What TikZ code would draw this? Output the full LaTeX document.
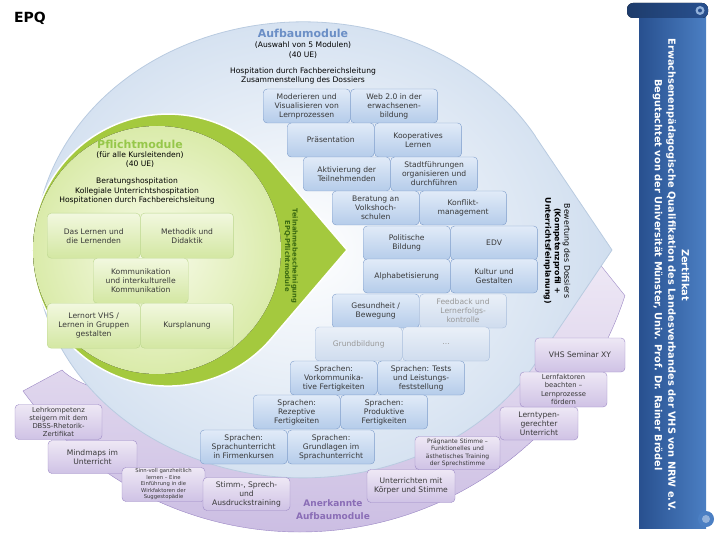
\documentclass[tikz,border=0pt]{standalone}
\usepackage{fontspec}
\setmainfont{DejaVu Sans}
\usetikzlibrary{positioning}

\definecolor{blueboxtop}{HTML}{E1EBF8}
\definecolor{bluebox}{HTML}{B5CCEA}
\definecolor{blueline}{HTML}{7E9DCB}
\definecolor{fadetop}{HTML}{EAF0F8}
\definecolor{fadebot}{HTML}{CFDCEE}
\definecolor{fadeline}{HTML}{A9BEDC}
\definecolor{greentop}{HTML}{F2F8DF}
\definecolor{greenbot}{HTML}{D3E7A2}
\definecolor{greenline}{HTML}{BCD78E}
\definecolor{ringgreen}{HTML}{A4C93E}
\definecolor{greeninner}{HTML}{F8FBEA}
\definecolor{greenouter}{HTML}{DAEBAA}
\definecolor{lilatop}{HTML}{EEE8F5}
\definecolor{lilabot}{HTML}{CFC2E5}
\definecolor{lilaline}{HTML}{9D8AC6}
\definecolor{lilafield}{HTML}{C6B7E0}
\definecolor{lilaedge}{HTML}{9A86C4}
\definecolor{lilatext}{HTML}{8A6DB6}
\definecolor{bluefield}{HTML}{D0DEEF}
\definecolor{blueedge}{HTML}{B9CBE0}
\definecolor{bluetitle}{HTML}{6B8FC6}
\definecolor{greentitle}{HTML}{96C74A}
\definecolor{darkgreen}{HTML}{3C6B12}
\definecolor{scrolldark}{HTML}{28508F}
\definecolor{scrolllight}{HTML}{4B7FC3}

\tikzset{
  box/.style={rounded corners=4pt, align=center, inner sep=1pt, text=black!78,
              font=\fontsize{7.6}{9}\selectfont},
  pbox/.style={box, draw=greenline, top color=greentop, bottom color=greenbot,
               minimum width=93pt, minimum height=45pt},
  abox/.style={box, draw=blueline, top color=blueboxtop, bottom color=bluebox,
               minimum width=87pt, minimum height=34pt},
  fbox/.style={abox, draw=fadeline, top color=fadetop, bottom color=fadebot, text=black!40},
  lbox/.style={box, draw=lilaline, top color=lilatop, bottom color=lilabot,
               minimum width=87pt, minimum height=33pt},
  smalltext/.style={font=\fontsize{6.8}{8.2}\selectfont},
  tinytext/.style={font=\fontsize{5.3}{6.5}\selectfont},
}

\begin{document}
\begin{tikzpicture}[x=1pt, y=-1pt]
\useasboundingbox (0,0) rectangle (720,540);

% anerkannte aufbaumodule
\draw[draw=lilaedge, top color=lilatop, bottom color=lilafield]
  (23,391) arc[start angle=-144, end angle=-18, radius=342pt]
  -- (598,262) .. controls (520,420) and (120,430) .. (62,370) -- cycle;

% aufbaumodule
\draw[draw=blueedge, line width=0.8pt, inner color=white, outer color=bluefield]
  (535.4,136.5) -- (612,250) -- (535.4,363.5)
  arc[start angle=-29.9, end angle=-330.1, x radius=268pt, y radius=228pt] -- cycle;

% pflichtmodule
\draw[draw=white, line width=1.5pt, fill=ringgreen]
  (271.4,161.6) -- (347,250) -- (271.4,338.4)
  arc[start angle=-40.5, end angle=-319.5, radius=136pt] -- cycle;
\fill[inner color=greeninner, outer color=greenouter] (157,250) circle[radius=124pt];

\node[font=\bfseries\fontsize{14}{16}\selectfont] (epq) at (30,18) {EPQ};

\node[text=bluetitle, font=\bfseries\fontsize{11}{13}\selectfont] (atitle) at (303,33) {Aufbaumodule};
\node[align=center, font=\fontsize{7.6}{9.5}\selectfont] (aunits) at (303,50)
  {(Auswahl von 5 Modulen)\\(40 UE)};
\node[align=center, font=\fontsize{7.6}{9.5}\selectfont] (ahosp) at (303,76)
  {Hospitation durch Fachbereichsleitung\\Zusammenstellung des Dossiers};

\node[text=greentitle, font=\bfseries\fontsize{11}{13}\selectfont] (ptitle) at (140,144) {Pflichtmodule};
\node[align=center, font=\fontsize{7.6}{9}\selectfont] (punits) at (140,160)
  {(für alle Kursleitenden)\\(40 UE)};
\node[align=center, font=\fontsize{7.6}{9.4}\selectfont] (phosp) at (137,191)
  {Beratungshospitation\\Kollegiale Unterrichtshospitation\\Hospitationen durch Fachbereichsleitung};

\node[rotate=-90, text=darkgreen, align=center, font=\bfseries\fontsize{6.8}{7.6}\selectfont]
  (teiln) at (291,256) {Teilnahmebescheinigung\\EPQ-Pflichtmodule};
\node[rotate=-90, align=center, font=\fontsize{7.8}{9.6}\selectfont]
  (bewert) at (557,251) {Bewertung des Dossiers\\\textbf{(Kompetenzprofil +}\\\textbf{Unterrichtsfeinplanung)}};
\node[text=lilatext, align=center, font=\bfseries\fontsize{9}{13}\selectfont]
  (anerk) at (333,510) {Anerkannte\\Aufbaumodule};

% pflichtmodule boxes
\node[pbox, anchor=north west] (lernen) at (47,213) {Das Lernen und\\die Lernenden};
\node[pbox, right=0pt of lernen] (methodik) {Methodik und\\Didaktik};
\node[pbox, anchor=north west, minimum width=95pt] (komm) at (93,258) {Kommunikation\\und interkulturelle\\Kommunikation};
\node[pbox, anchor=north west] (lernort) at (47,303) {Lernort VHS /\\Lernen in Gruppen\\gestalten};
\node[pbox, right=0pt of lernort] (kurs) {Kursplanung};

% aufbaumodule boxes
\node[abox, anchor=west] (moder) at (263,106) {Moderieren und\\Visualisieren von\\Lernprozessen};
\node[abox, right=0pt of moder] (web) {Web 2.0 in der\\erwachsenen-\\bildung};
\node[abox, anchor=west] (praes) at (287,140) {Präsentation};
\node[abox, right=0pt of praes] (koop) {Kooperatives\\Lernen};
\node[abox, anchor=west] (aktiv) at (303,174) {Aktivierung der\\Teilnehmenden};
\node[abox, right=0pt of aktiv] (stadt) {Stadtführungen\\organisieren und\\durchführen};
\node[abox, anchor=west] (berat) at (332,208) {Beratung an\\Volkshoch-\\schulen};
\node[abox, right=0pt of berat] (konfl) {Konflikt-\\management};
\node[abox, anchor=west] (polit) at (363,243) {Politische\\Bildung};
\node[abox, right=0pt of polit] (edv) {EDV};
\node[abox, anchor=west] (alpha) at (363,276) {Alphabetisierung};
\node[abox, right=0pt of alpha] (kultur) {Kultur und\\Gestalten};
\node[abox, anchor=west] (gesund) at (332,311) {Gesundheit /\\Bewegung};
\node[fbox, right=0pt of gesund] (feedb) {Feedback und\\Lernerfolgs-\\kontrolle};
\node[fbox, anchor=west] (grund) at (315,344) {Grundbildung};
\node[fbox, right=0pt of grund] (dots) {...};
\node[abox, anchor=west] (vorkomm) at (290,378) {Sprachen:\\Vorkommunika-\\tive Fertigkeiten};
\node[abox, right=0pt of vorkomm] (tests) {Sprachen: Tests\\und Leistungs-\\feststellung};
\node[abox, anchor=west] (rezep) at (253,412) {Sprachen:\\Rezeptive\\Fertigkeiten};
\node[abox, right=0pt of rezep] (produk) {Sprachen:\\Produktive\\Fertigkeiten};
\node[abox, anchor=west] (firmen) at (200,447) {Sprachen:\\Sprachunterricht\\in Firmenkursen};
\node[abox, right=0pt of firmen] (grundl) {Sprachen:\\Grundlagen im\\Sprachunterricht};

% anerkannte boxes
\node[lbox, smalltext, minimum height=35pt] (lehr) at (58.5,422) {Lehrkompetenz\\steigern mit dem\\DBSS-Rhetorik-\\Zertifikat};
\node[lbox, minimum width=89pt] (mind) at (92.5,457) {Mindmaps im\\Unterricht};
\node[lbox, tinytext, minimum width=83pt, minimum height=34pt] (sinn) at (163.5,484.5) {Sinn-voll ganzheitlich\\lernen – Eine\\Einführung in die\\Wirkfaktoren der\\Suggestopädie};
\node[lbox] (stimm) at (246.5,494) {Stimm-, Sprech-\\und\\Ausdruckstraining};
\node[lbox, minimum width=88pt] (unter) at (411,486) {Unterrichten mit\\Körper und Stimme};
\node[lbox, font=\fontsize{6}{7.4}\selectfont, minimum width=85pt] (praeg) at (457.5,453) {Prägnante Stimme –\\Funktionelles und\\ästhetisches Training\\der Sprechstimme};
\node[lbox, minimum width=78pt] (lerntyp) at (539,423.5) {Lerntypen-\\gerechter\\Unterricht};
\node[lbox, smalltext, minimum height=35pt] (lernfak) at (563.5,389.5) {Lernfaktoren\\beachten –\\Lernprozesse\\fördern};
\node[lbox, minimum width=90pt, minimum height=34pt] (vhs) at (580,355) {VHS Seminar XY};

% zertifikat
\fill[left color=scrolldark, right color=scrolllight] (639,12) rectangle (706,528);
\fill[left color=scrolldark!75!black, right color=scrolldark, rounded corners=6pt] (627,3) rectangle (708,18);
\fill[scrolllight!60!white] (700,10.5) circle[radius=4.5pt];
\fill[scrolldark] (700,10.5) circle[radius=2pt];
\fill[scrolllight] (706,519) circle[radius=8pt];
\fill[scrolllight!60!white] (706,519) circle[radius=4pt];
\node[rotate=-90, text=white, align=center, font=\bfseries\fontsize{9.8}{13.5}\selectfont]
  (zert) at (671,275) {Zertifikat\\Erwachsenenpädagogische Qualifikation des Landesverbandes der VHS von NRW e.V.\\Begutachtet von der Universität Münster, Univ. Prof. Dr. Rainer Brödel};
\end{tikzpicture}
\end{document}
